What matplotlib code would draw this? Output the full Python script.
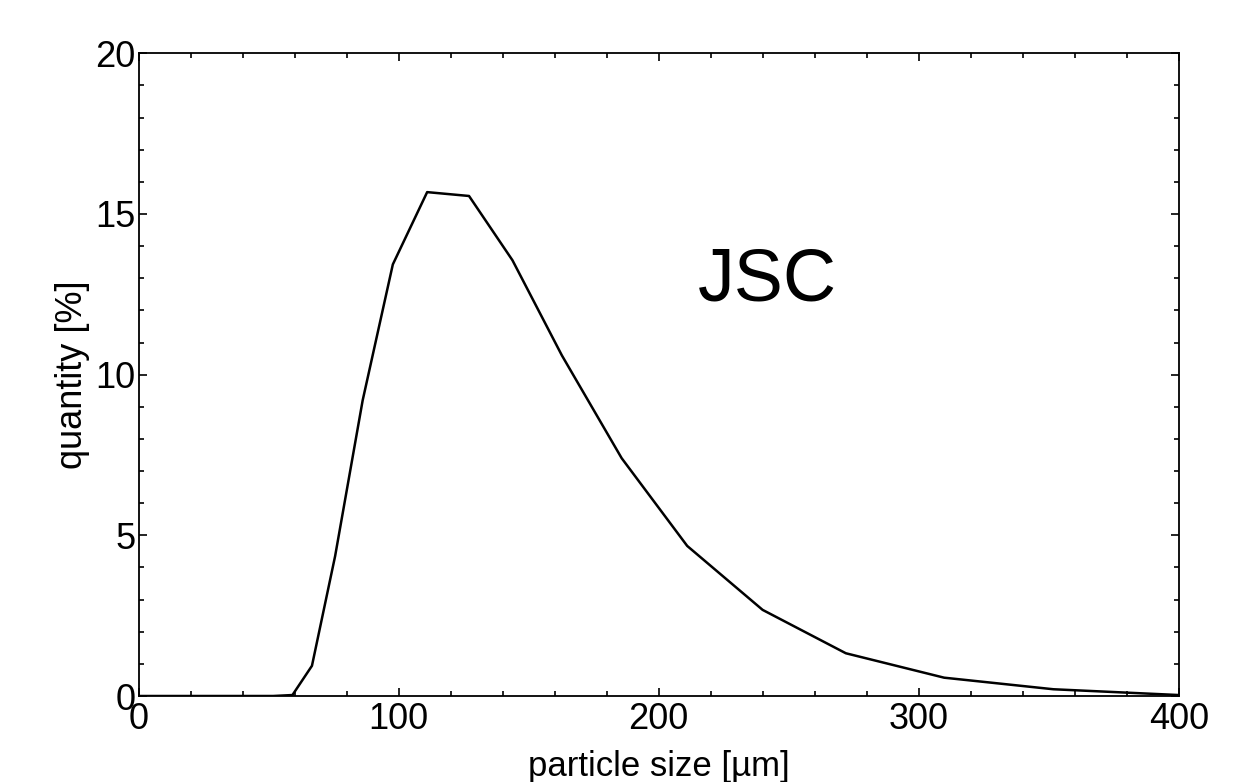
import matplotlib
matplotlib.use("Agg")
import matplotlib.pyplot as plt
from matplotlib.ticker import MultipleLocator

plt.rcParams['font.family'] = ['Liberation Sans', 'DejaVu Sans']

size_um = [0, 51.8, 59.2, 66.7, 75.6, 86.2, 97.8, 111.0, 127.1, 143.8,
           162.8, 185.8, 211.0, 240.0, 272.0, 309.8, 351.8, 400.0]
quantity = [0, 0.0, 0.03, 0.94, 4.35, 9.2, 13.43, 15.68, 15.56, 13.56,
            10.6, 7.40, 4.67, 2.68, 1.33, 0.57, 0.21, 0.03]

fig = plt.figure(figsize=(12.55, 7.82), dpi=100)
ax = fig.add_axes([138.5/1255, 1-696/782, (1178.7-138.5)/1255, (696-53.3)/782])
ax.plot(size_um, quantity, color='black', lw=1.8)
ax.set_xlim(0, 400)
ax.set_ylim(0, 20)
ax.xaxis.set_major_locator(MultipleLocator(100))
ax.xaxis.set_minor_locator(MultipleLocator(20))
ax.yaxis.set_major_locator(MultipleLocator(5))
ax.yaxis.set_minor_locator(MultipleLocator(1))
ax.tick_params(which='both', direction='in', top=True, right=True, width=1.2)
ax.tick_params(which='major', length=6, labelsize=26)
ax.tick_params(axis='x', which='major', pad=4.5)
ax.tick_params(axis='y', which='major', pad=2)
ax.tick_params(which='minor', length=3.5)
for s in ax.spines.values():
    s.set_linewidth(1.3)
ax.set_xlabel('particle size [µm]', fontsize=25, labelpad=9)
ax.set_ylabel('quantity [%]', fontsize=26, labelpad=4)
ax.text(0.605, 0.646, 'JSC', transform=ax.transAxes, fontsize=53, ha='center', va='center')
fig.savefig('out.png', dpi=100)
